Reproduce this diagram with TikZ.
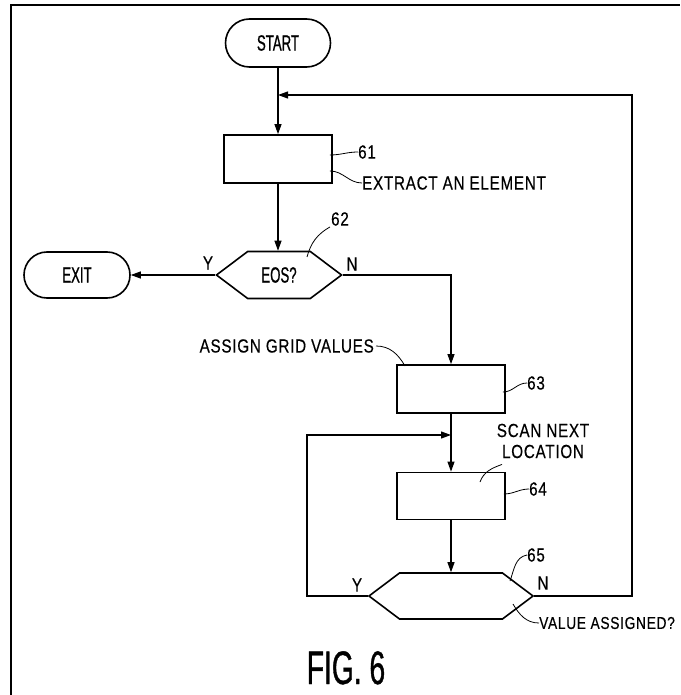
\documentclass[tikz,border=0pt]{standalone}
\usepackage{fontspec}
\newfontfamily\patfont{Liberation Sans}[FakeStretch=0.8,LetterSpace=4,FakeBold=0.4]
\newfontfamily\patnarrow{Liberation Sans}[FakeStretch=0.6,FakeBold=0.8]
\usepackage{tikz}
\usetikzlibrary{positioning,arrows.meta,shapes.misc,shapes.symbols,calc}

\begin{document}
\begin{tikzpicture}[x=1pt,y=-1pt,
    term/.style={draw, rounded rectangle, line width=1.6pt, minimum width=105pt, minimum height=48pt, inner sep=0pt, font=\patnarrow\fontsize{22}{24}\selectfont},
    proc/.style={draw, line width=1.8pt, minimum width=108pt, minimum height=48pt, inner sep=0pt},
    dec/.style={draw, signal, signal to=east and west, signal pointer angle=74, line width=1.6pt, minimum height=47pt, inner sep=0pt, font=\patnarrow\fontsize{22}{24}\selectfont},
    lbl/.style={font=\patfont\fontsize{19}{21}\selectfont, inner sep=0pt},
    flow/.style={line width=1.1pt, -{Triangle[length=10pt,width=7pt]}},
    lead/.style={line width=0.8pt},
  ]
  \useasboundingbox (0,0) rectangle (680,695);
  \draw[line width=2pt] (11,695) -- (11,5) -- (680,5);

  \node[term] (start) at (278,43) {START};
  \node[proc] (box61) at (278,159) {};
  \node[dec, minimum width=125pt] (eos) at (279,275) {EOS?};
  \node[term, minimum width=106pt, minimum height=46pt] (exit) at (77,275) {EXIT};
  \node[proc] (box63) at (451,389) {};
  \node[proc, minimum height=47pt] (box64) at (451,496) {};
  \node[dec, minimum width=164pt, minimum height=46pt] (val) at (451,596) {};

  \coordinate (join1) at (278,95);
  \coordinate (rcorner) at (632,95);
  \coordinate (join2) at (451,435);
  \coordinate (lcorner) at (307,435);

  \draw[flow] (start.south) -- (box61.north);
  \draw[flow] (box61.south) -- (box61.south |- eos.north);
  \draw[flow] (eos.west) -- (exit.east);
  \draw[flow] (eos.east) -| (box63.north);
  \draw[flow] (box63.south) -- (box64.north);
  \draw[flow] (box64.south) -- (val.north);
  \draw[flow] (val.west) -- (val.west -| lcorner) -- (lcorner) -- (join2);
  \draw[flow] (val.east) -- (val.east -| rcorner) -- (rcorner) -- (join1);

  \node[lbl, anchor=west] (n61) at (358,152) {61};
  \draw[lead] ([shift={(-3,-4)}]box61.east) to[out=0,in=180] (n61.west);
  \node[lbl, anchor=west] (txt61) at (362,183) {EXTRACT AN ELEMENT};
  \draw[lead] ([shift={(-3,12)}]box61.east) to[out=0,in=180] (txt61.west);

  \node[lbl] (n62) at (340,219) {62};
  \draw[lead] ([shift={(28,-18)}]eos.center) to[out=75,in=210] ([shift={(-1,1)}]n62.south west);
  \node[lbl] (ylab62) at (208,263) {Y};
  \node[lbl] (nlab62) at (352,264) {N};

  \node[lbl, anchor=east] (txt63) at (374,346) {ASSIGN GRID VALUES};
  \draw[lead] ([xshift=2pt]txt63.east) to[out=0,in=120] ([shift={(-46,-23)}]box63.center);
  \node[lbl, anchor=west] (n63) at (527,383) {63};
  \draw[lead] ([shift={(-3,3)}]box63.east) to[out=0,in=180] (n63.west);

  \node[lbl, align=center] (txt64) at (543,441) {SCAN NEXT\\LOCATION};
  \draw[lead] ([shift={(-41,6)}]txt64.south) to[out=200,in=70] ([shift={(29,-14)}]box64.center);
  \node[lbl, anchor=west] (n64) at (529,489) {64};
  \draw[lead] ([shift={(-2,-2)}]box64.east) to[out=0,in=180] (n64.west);

  \node[lbl, anchor=west] (n65) at (527,555) {65};
  \draw[lead] ([shift={(59,-15)}]val.center) to[out=70,in=190] (n65.west);
  \node[lbl] (yval) at (357,585) {Y};
  \node[lbl] (nval) at (543,583) {N};
  \node[lbl, anchor=west, font=\patfont\fontsize{17.2}{19}\selectfont] (txt65) at (539,623) {VALUE ASSIGNED?};
  \draw[lead] ([shift={(62,8)}]val.center) to[out=-60,in=180] (txt65.west);

  \node[font=\patnarrow\fontsize{47}{48}\selectfont, inner sep=0pt, anchor=base] (fig) at (346,684) {FIG. 6};
\end{tikzpicture}
\end{document}
